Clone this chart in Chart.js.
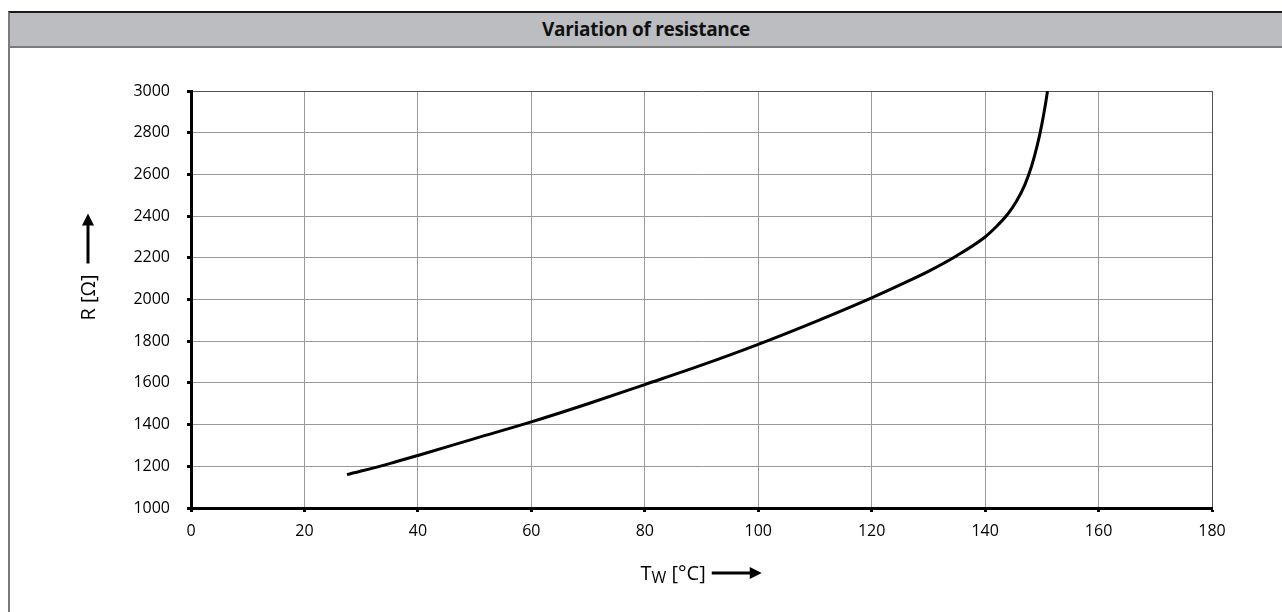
<!DOCTYPE html>
<html><head><meta charset="utf-8">
<script src="https://cdn.jsdelivr.net/npm/chart.js@4.4.1/dist/chart.umd.min.js"></script>
<style>
html,body{margin:0;padding:0;background:#fff;width:1282px;height:612px;overflow:hidden;}
#frame{position:absolute;left:8px;top:11px;width:2px;bottom:0;background:#7a7a7a;}
#bar{position:absolute;left:8px;top:11px;width:1274px;height:37px;box-sizing:border-box;background:#bcbdc1;border-top:2px solid #1a1a1a;border-bottom:2px solid #7a7a7a;border-left:2px solid #7a7a7a;
text-align:center;font:bold 19px 'Open Sans',sans-serif;line-height:32px;color:#111;letter-spacing:-0.3px;}
#c{position:absolute;left:0;top:0;}
</style></head>
<body>
<div id="frame"></div>
<div id="bar">Variation of resistance</div>
<canvas id="c" width="1282" height="612"></canvas>
<script>
// Data
const temperatures = [27.5, 35, 40, 50, 60, 70, 80, 90, 100, 110, 120, 125, 130, 135, 140, 142, 144, 145.5, 147, 148.2, 149.2, 150, 150.6, 151];
const resistances  = [1160, 1213, 1252, 1333, 1413, 1500, 1592, 1685, 1785, 1893, 2008, 2070, 2135, 2210, 2300, 2350, 2410, 2470, 2550, 2640, 2740, 2840, 2930, 3000];
const xTickValues = [0, 20, 40, 60, 80, 100, 120, 140, 160, 180];
const yTickValues = [1000, 1200, 1400, 1600, 1800, 2000, 2200, 2400, 2600, 2800, 3000];
const chartTitle = 'Variation of resistance';
const yTitle = 'R [Ω]';
const xTitleMain = 'T', xTitleSub = 'W', xTitleRest = ' [°C]';

const points = temperatures.map((t, i) => ({x: t, y: resistances[i]}));
const tickFont = {family: "'Open Sans', sans-serif", size: 16};

function zeroPad(s){ s.paddingLeft = 0; s.paddingRight = 0; s.paddingTop = 0; s.paddingBottom = 0; }

const titlesPlugin = {
  id: 'axisTitles',
  afterDraw(chart) {
    const ctx = chart.ctx;
    const ca = chart.chartArea;
    ctx.save();
    ctx.fillStyle = '#000';
    ctx.strokeStyle = '#000';
    // X title
    const cx = (ca.left + ca.right) / 2;
    let x = cx - 61;
    const by = ca.bottom + 72;
    ctx.textBaseline = 'alphabetic';
    ctx.textAlign = 'left';
    ctx.font = "20px 'Open Sans', sans-serif";
    ctx.fillText(xTitleMain, x, by);
    x += ctx.measureText(xTitleMain).width;
    ctx.font = "16px 'Open Sans', sans-serif";
    ctx.fillText(xTitleSub, x, by + 3);
    x += ctx.measureText(xTitleSub).width;
    ctx.font = "20px 'Open Sans', sans-serif";
    ctx.fillText(xTitleRest, x, by);
    x += ctx.measureText(xTitleRest).width;
    const ay = by - 7;
    const ax0 = x + 6, ax1 = x + 56;
    ctx.lineWidth = 3;
    ctx.beginPath(); ctx.moveTo(ax0, ay); ctx.lineTo(ax1 - 10, ay); ctx.stroke();
    ctx.beginPath(); ctx.moveTo(ax1, ay); ctx.lineTo(ax1 - 12, ay - 6); ctx.lineTo(ax1 - 12, ay + 6); ctx.closePath(); ctx.fill();
    // Y title
    const cy = (ca.top + ca.bottom) / 2;
    const tx = 89;
    ctx.save();
    ctx.translate(tx, cy - 2);
    ctx.rotate(-Math.PI / 2);
    ctx.textAlign = 'center';
    ctx.textBaseline = 'middle';
    ctx.font = "20px 'Open Sans', sans-serif";
    ctx.fillText(yTitle, 0, 0);
    ctx.restore();
    const yb = cy - 36, yt = cy - 86;
    ctx.beginPath(); ctx.moveTo(tx - 1, yb); ctx.lineTo(tx - 1, yt + 10); ctx.stroke();
    ctx.beginPath(); ctx.moveTo(tx - 1, yt); ctx.lineTo(tx - 7, yt + 12); ctx.lineTo(tx + 5, yt + 12); ctx.closePath(); ctx.fill();
    ctx.restore();
  }
};

new Chart(document.getElementById('c'), {
  type: 'scatter',
  data: {
    datasets: [{
      label: chartTitle,
      data: points,
      showLine: true,
      borderColor: '#000',
      borderWidth: 3,
      pointRadius: 0,
      cubicInterpolationMode: 'monotone',
      fill: false
    }]
  },
  options: {
    responsive: false,
    animation: false,
    layout: {padding: {left: 0, top: 91, right: 70, bottom: 0}},
    plugins: {legend: {display: false}, tooltip: {enabled: false}, title: {display: false}},
    scales: {
      x: {
        type: 'linear', min: 0, max: 180,
        afterBuildTicks: s => { s.ticks = xTickValues.map(v => ({value: v})); },
        afterFit: s => { s.height = 104; zeroPad(s); },
        ticks: {font: tickFont, color: '#000', padding: 10, maxRotation: 0, callback: v => String(v)},
        grid: {color: c => (c.tick && c.tick.value === 180) ? '#555' : '#999', lineWidth: 1, tickLength: 4, tickColor: '#000', tickWidth: 3},
        border: {display: true, color: '#000', width: 3}
      },
      y: {
        type: 'linear', min: 1000, max: 3000,
        afterBuildTicks: s => { s.ticks = yTickValues.map(v => ({value: v})); },
        afterFit: s => { s.width = 191; zeroPad(s); },
        ticks: {font: tickFont, color: '#000', padding: 17, callback: v => String(v)},
        grid: {color: c => (c.tick && c.tick.value === 3000) ? '#555' : '#999', lineWidth: 1, tickLength: 4, tickColor: '#000', tickWidth: 3},
        border: {display: true, color: '#000', width: 3}
      }
    }
  },
  plugins: [titlesPlugin]
});
</script>
</body></html>
